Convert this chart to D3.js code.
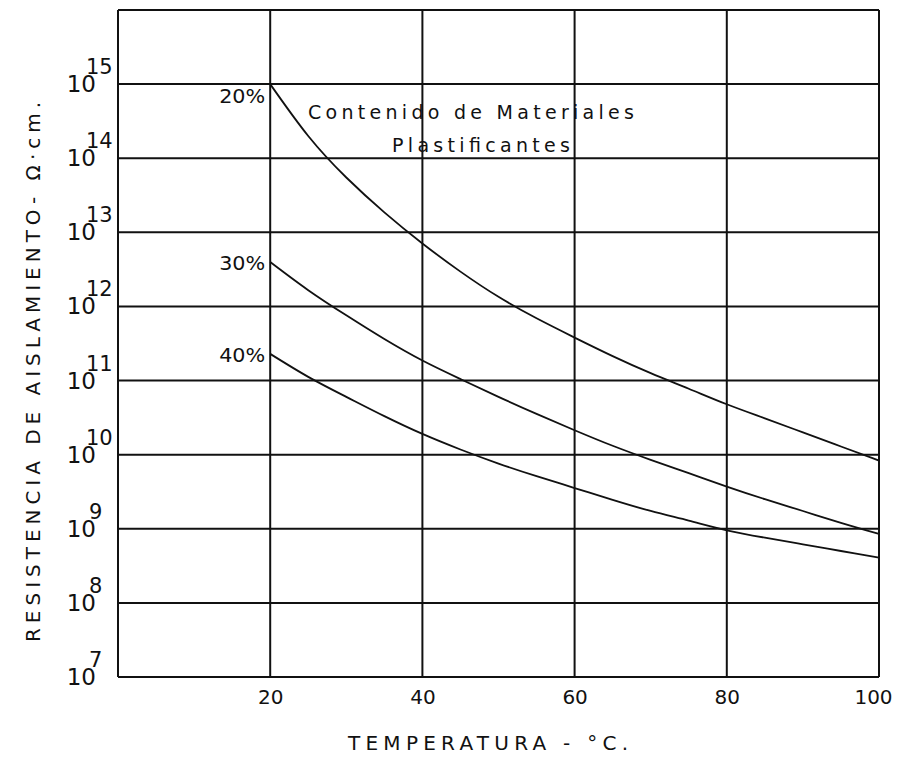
<!DOCTYPE html>
<html>
<head>
<meta charset="utf-8">
<script src="https://cdn.jsdelivr.net/npm/d3@7"></script>
<style>
  body { margin: 0; background: #fff; }
  svg text { font-family: "DejaVu Sans", sans-serif; fill: #111; }
</style>
</head>
<body>
<div id="chart"></div>
<script>
// temperature (°C) and log10 of insulation resistance (ohm·cm)
var temps = [20, 25, 30, 35, 40, 45, 50, 55, 60, 65, 70, 75, 80, 85, 90, 95, 100];
var exp20 = [15.0, 14.3, 13.74, 13.27, 12.85, 12.47, 12.13, 11.84, 11.58, 11.33, 11.1, 10.89, 10.68, 10.49, 10.3, 10.11, 9.92];
var exp30 = [12.6, 12.22, 11.88, 11.56, 11.27, 11.02, 10.78, 10.55, 10.33, 10.12, 9.93, 9.75, 9.57, 9.4, 9.24, 9.08, 8.93];
var exp40 = [11.36, 11.05, 10.78, 10.52, 10.28, 10.07, 9.88, 9.71, 9.55, 9.39, 9.24, 9.11, 8.98, 8.88, 8.79, 8.7, 8.61];
var seriesNames = ["20%", "30%", "40%"];
var xTicks = [20, 40, 60, 80, 100];
var yExps = [7, 8, 9, 10, 11, 12, 13, 14, 15];

var drawChart = function () {
    var width = 898, height = 759;
    var pLeft = 118, pRight = 879, pTop = 10, pBottom = 677;

    var svg = d3.select("#chart").append("svg")
        .attr("width", width)
        .attr("height", height);

    var x = d3.scaleLinear().domain([0, 100]).range([pLeft, pRight]);
    var y = d3.scaleLog().domain([1e7, 1e16]).range([pBottom, pTop]);

    // grid lines
    var grid = svg.append("g").attr("stroke", "#111").attr("stroke-width", 2);
    yExps.concat([16]).forEach(function (e) {
        grid.append("line")
            .attr("x1", pLeft).attr("x2", pRight)
            .attr("y1", y(Math.pow(10, e))).attr("y2", y(Math.pow(10, e)));
    });
    [0].concat(xTicks).forEach(function (t) {
        grid.append("line")
            .attr("x1", x(t)).attr("x2", x(t))
            .attr("y1", pTop).attr("y2", pBottom);
    });

    // y tick labels as 10 with an exponent
    yExps.forEach(function (e) {
        var yy = y(Math.pow(10, e));
        svg.append("text")
            .attr("x", 96).attr("y", yy + 8)
            .attr("text-anchor", "end")
            .attr("font-size", 23)
            .text("10");
        svg.append("text")
            .attr("x", e < 10 ? 89 : 86).attr("y", yy - 10)
            .attr("font-size", 21)
            .text(e);
    });

    // x tick labels
    var xAxis = svg.append("g")
        .attr("transform", "translate(0," + pBottom + ")")
        .call(d3.axisBottom(x).tickValues(xTicks).tickSize(0).tickPadding(0));
    xAxis.select(".domain").remove();
    xAxis.selectAll("text")
        .attr("y", 27)
        .attr("dy", 0)
        .attr("font-size", 20)
        .attr("font-family", "DejaVu Sans, sans-serif")
        .attr("fill", "#111");
    xAxis.selectAll(".tick").filter(function (d) { return d === 100; })
        .select("text").attr("x", -6);

    // curves
    var line = d3.line()
        .x(function (d) { return x(d[0]); })
        .y(function (d) { return y(Math.pow(10, d[1])); })
        .curve(d3.curveNatural);

    var series = [exp20, exp30, exp40];
    var labelDy = [19, 8, 8];
    series.forEach(function (s, i) {
        var pts = temps.map(function (t, j) { return [t, s[j]]; });
        svg.append("path")
            .datum(pts)
            .attr("fill", "none")
            .attr("stroke", "#111")
            .attr("stroke-width", 1.8)
            .attr("d", line);
        svg.append("text")
            .attr("x", x(temps[0]) - 5)
            .attr("y", y(Math.pow(10, s[0])) + labelDy[i])
            .attr("text-anchor", "end")
            .attr("font-size", 20)
            .attr("textLength", 46)
            .attr("lengthAdjust", "spacingAndGlyphs")
            .text(seriesNames[i]);
    });

    // annotation
    svg.append("text")
        .attr("x", 308).attr("y", 119)
        .attr("font-size", 19)
        .attr("textLength", 326)
        .attr("lengthAdjust", "spacing")
        .text("Contenido de Materiales");
    svg.append("text")
        .attr("x", 392).attr("y", 152)
        .attr("font-size", 19)
        .attr("textLength", 178)
        .attr("lengthAdjust", "spacing")
        .text("Plastificantes");

    // axis titles
    svg.append("text")
        .attr("x", 348).attr("y", 750)
        .attr("font-size", 20)
        .attr("textLength", 280)
        .attr("lengthAdjust", "spacing")
        .text("TEMPERATURA - °C.");

    svg.append("text")
        .attr("transform", "translate(40,642) rotate(-90)")
        .attr("font-size", 20)
        .attr("textLength", 540)
        .attr("lengthAdjust", "spacing")
        .text("RESISTENCIA DE AISLAMIENTO- Ω·cm.");
};

drawChart();
</script>
</body>
</html>
